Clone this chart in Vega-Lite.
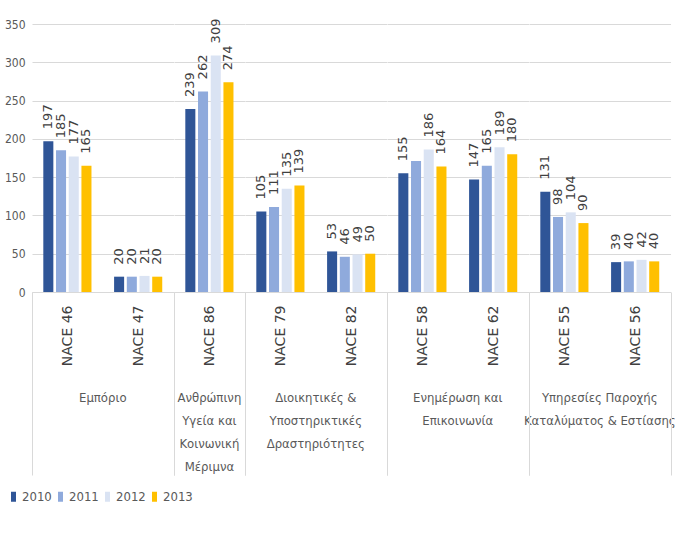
{
  "$schema": "https://vega.github.io/schema/vega-lite/v6.json",
  "padding": {"left": 4, "top": 18, "right": 8, "bottom": 5},
  "background": "white",
  "bounds": "flush",
  "data": {"values": [
    {"sector": "Εμπόριο", "nace": "NACE 46", "year": "2010", "value": 197},
    {"sector": "Εμπόριο", "nace": "NACE 46", "year": "2011", "value": 185},
    {"sector": "Εμπόριο", "nace": "NACE 46", "year": "2012", "value": 177},
    {"sector": "Εμπόριο", "nace": "NACE 46", "year": "2013", "value": 165},
    {"sector": "Εμπόριο", "nace": "NACE 47", "year": "2010", "value": 20},
    {"sector": "Εμπόριο", "nace": "NACE 47", "year": "2011", "value": 20},
    {"sector": "Εμπόριο", "nace": "NACE 47", "year": "2012", "value": 21},
    {"sector": "Εμπόριο", "nace": "NACE 47", "year": "2013", "value": 20},
    {"sector": "Ανθρώπινη Υγεία και Κοινωνική Μέριμνα", "nace": "NACE 86", "year": "2010", "value": 239},
    {"sector": "Ανθρώπινη Υγεία και Κοινωνική Μέριμνα", "nace": "NACE 86", "year": "2011", "value": 262},
    {"sector": "Ανθρώπινη Υγεία και Κοινωνική Μέριμνα", "nace": "NACE 86", "year": "2012", "value": 309},
    {"sector": "Ανθρώπινη Υγεία και Κοινωνική Μέριμνα", "nace": "NACE 86", "year": "2013", "value": 274},
    {"sector": "Διοικητικές & Υποστηρικτικές Δραστηριότητες", "nace": "NACE 79", "year": "2010", "value": 105},
    {"sector": "Διοικητικές & Υποστηρικτικές Δραστηριότητες", "nace": "NACE 79", "year": "2011", "value": 111},
    {"sector": "Διοικητικές & Υποστηρικτικές Δραστηριότητες", "nace": "NACE 79", "year": "2012", "value": 135},
    {"sector": "Διοικητικές & Υποστηρικτικές Δραστηριότητες", "nace": "NACE 79", "year": "2013", "value": 139},
    {"sector": "Διοικητικές & Υποστηρικτικές Δραστηριότητες", "nace": "NACE 82", "year": "2010", "value": 53},
    {"sector": "Διοικητικές & Υποστηρικτικές Δραστηριότητες", "nace": "NACE 82", "year": "2011", "value": 46},
    {"sector": "Διοικητικές & Υποστηρικτικές Δραστηριότητες", "nace": "NACE 82", "year": "2012", "value": 49},
    {"sector": "Διοικητικές & Υποστηρικτικές Δραστηριότητες", "nace": "NACE 82", "year": "2013", "value": 50},
    {"sector": "Ενημέρωση και Επικοινωνία", "nace": "NACE 58", "year": "2010", "value": 155},
    {"sector": "Ενημέρωση και Επικοινωνία", "nace": "NACE 58", "year": "2011", "value": 171},
    {"sector": "Ενημέρωση και Επικοινωνία", "nace": "NACE 58", "year": "2012", "value": 186},
    {"sector": "Ενημέρωση και Επικοινωνία", "nace": "NACE 58", "year": "2013", "value": 164},
    {"sector": "Ενημέρωση και Επικοινωνία", "nace": "NACE 62", "year": "2010", "value": 147},
    {"sector": "Ενημέρωση και Επικοινωνία", "nace": "NACE 62", "year": "2011", "value": 165},
    {"sector": "Ενημέρωση και Επικοινωνία", "nace": "NACE 62", "year": "2012", "value": 189},
    {"sector": "Ενημέρωση και Επικοινωνία", "nace": "NACE 62", "year": "2013", "value": 180},
    {"sector": "Υπηρεσίες Παροχής Καταλύματος & Εστίασης", "nace": "NACE 55", "year": "2010", "value": 131},
    {"sector": "Υπηρεσίες Παροχής Καταλύματος & Εστίασης", "nace": "NACE 55", "year": "2011", "value": 98},
    {"sector": "Υπηρεσίες Παροχής Καταλύματος & Εστίασης", "nace": "NACE 55", "year": "2012", "value": 104},
    {"sector": "Υπηρεσίες Παροχής Καταλύματος & Εστίασης", "nace": "NACE 55", "year": "2013", "value": 90},
    {"sector": "Υπηρεσίες Παροχής Καταλύματος & Εστίασης", "nace": "NACE 56", "year": "2010", "value": 39},
    {"sector": "Υπηρεσίες Παροχής Καταλύματος & Εστίασης", "nace": "NACE 56", "year": "2011", "value": 40},
    {"sector": "Υπηρεσίες Παροχής Καταλύματος & Εστίασης", "nace": "NACE 56", "year": "2012", "value": 42},
    {"sector": "Υπηρεσίες Παροχής Καταλύματος & Εστίασης", "nace": "NACE 56", "year": "2013", "value": 40}
  ]},
  "facet": {
    "column": {
      "field": "sector",
      "type": "nominal",
      "sort": ["Εμπόριο", "Ανθρώπινη Υγεία και Κοινωνική Μέριμνα", "Διοικητικές & Υποστηρικτικές Δραστηριότητες", "Ενημέρωση και Επικοινωνία", "Υπηρεσίες Παροχής Καταλύματος & Εστίασης"],
      "header": {
        "title": null,
        "labelOrient": "bottom",
        "labelAlign": "center",
        "labelBaseline": "top",
        "labelPadding": 100,
        "labelFont": "DejaVu Sans Condensed, Liberation Sans",
        "labelFontSize": 13,
        "labelColor": "#595959",
        "labelLineHeight": 23,
        "labelExpr": "datum.value == 'Ανθρώπινη Υγεία και Κοινωνική Μέριμνα' ? ['Ανθρώπινη','Υγεία και','Κοινωνική','Μέριμνα'] : datum.value == 'Διοικητικές & Υποστηρικτικές Δραστηριότητες' ? ['Διοικητικές &','Υποστηρικτικές','Δραστηριότητες'] : datum.value == 'Ενημέρωση και Επικοινωνία' ? ['Ενημέρωση και','Επικοινωνία'] : datum.value == 'Υπηρεσίες Παροχής Καταλύματος & Εστίασης' ? ['Υπηρεσίες Παροχής','Καταλύματος & Εστίασης'] : datum.value"
      }
    }
  },
  "spacing": 0,
  "resolve": {"scale": {"x": "independent"}},
  "spec": {
    "width": {"step": 12.707},
    "height": 268,
    "encoding": {
      "x": {
        "field": "nace",
        "type": "nominal",
        "sort": null,
        "scale": {"paddingInner": 0, "paddingOuter": 0},
        "axis": {
          "title": null,
          "labelAngle": -90,
          "labelAlign": "right",
          "labelBaseline": "middle",
          "labelFont": "DejaVu Sans",
          "labelFontSize": 14,
          "labelColor": "#404040",
          "labelPadding": -170,
          "tickBand": "extent",
          "tickSize": 183,
          "tickColor": "#D9D9D9",
          "tickOpacity": {"condition": {"test": "datum.value === 'NACE 46' || datum.value === 'NACE 79' || datum.value === 'NACE 58' || datum.value === 'NACE 55'", "value": 0}, "value": 1},
          "domainColor": "#D9D9D9"
        }
      },
      "xOffset": {
        "field": "year",
        "type": "nominal",
        "scale": {"paddingInner": 0.21, "paddingOuter": 0.89}
      },
      "y": {
        "field": "value",
        "type": "quantitative",
        "scale": {"domain": [0, 350], "nice": false},
        "axis": {
          "title": null,
          "values": [0, 50, 100, 150, 200, 250, 300, 350],
          "ticks": false,
          "domain": false,
          "labelPadding": 7,
          "labelFont": "DejaVu Sans Condensed, Liberation Sans",
          "labelFontSize": 12,
          "labelColor": "#595959",
          "gridColor": "#D9D9D9"
        }
      }
    },
    "layer": [
      {
        "mark": {"type": "bar"},
        "encoding": {
          "color": {
            "field": "year",
            "type": "nominal",
            "scale": {"domain": ["2010", "2011", "2012", "2013"], "range": ["#2F5597", "#8FAADC", "#DAE3F3", "#FFC000"]},
            "legend": {
              "title": null,
              "orient": "none",
              "legendX": -25,
              "legendY": 466,
              "direction": "horizontal",
              "symbolType": "M-0.5,-1H0.5V1H-0.5Z",
              "symbolSize": 100,
              "symbolStrokeWidth": 0,
              "labelFont": "DejaVu Sans Condensed, Liberation Sans",
              "labelFontSize": 13,
              "labelColor": "#595959",
              "columnPadding": 2,
              "labelOffset": 2
            }
          }
        }
      },
      {
        "transform": [{"filter": "!(datum.nace === 'NACE 58' && datum.year === '2011')"}],
        "mark": {"type": "text", "angle": 270, "align": "left", "baseline": "middle", "dx": 12, "font": "DejaVu Sans", "fontSize": 13, "color": "#404040"},
        "encoding": {"text": {"field": "value", "type": "quantitative"}}
      }
    ]
  },
  "config": {"view": {"stroke": null}}
}
